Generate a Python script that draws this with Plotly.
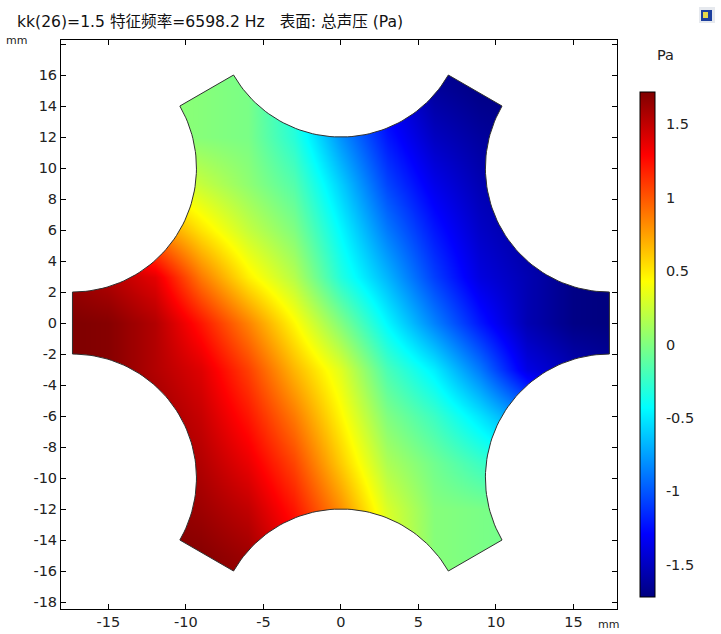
import numpy as np
import plotly.graph_objects as go

# ---------------- data ----------------
x_mm = [-18, -15, -12, -9, -6, -3, 0, 3, 6, 9, 12, 15, 18]
y_mm = [-18, -15, -12, -9, -6, -3, 0, 3, 6, 9, 12, 15, 18]

# total acoustic pressure (Pa), rows ordered by y_mm (bottom -> top)
p_y_m18 = [1.72, 1.72, 1.72, 1.72, 1.70, 1.45, 1.00, 0.40, 0.05, 0.00, -0.05, -0.05, -0.10]
p_y_m15 = [1.72, 1.72, 1.72, 1.70, 1.62, 1.35, 0.90, 0.35, 0.02, -0.02, -0.05, -0.15, -0.30]
p_y_m12 = [1.72, 1.72, 1.70, 1.62, 1.50, 1.22, 0.80, 0.30, 0.02, -0.02, -0.05, -0.50, -0.80]
p_y_m9 = [1.72, 1.72, 1.66, 1.55, 1.36, 1.06, 0.60, 0.15, -0.05, -0.23, -0.40, -0.90, -1.20]
p_y_m6 = [1.72, 1.71, 1.62, 1.48, 1.22, 0.88, 0.45, 0.00, -0.23, -0.52, -0.85, -1.25, -1.45]
p_y_m3 = [1.73, 1.70, 1.55, 1.40, 1.08, 0.68, 0.32, -0.18, -0.48, -0.88, -1.38, -1.55, -1.65]
p_y_0 = [1.73, 1.70, 1.55, 1.22, 0.85, 0.45, 0.00, -0.45, -0.85, -1.22, -1.55, -1.70, -1.73]
p_y_3 = [1.65, 1.55, 1.38, 0.88, 0.48, 0.18, -0.32, -0.68, -1.08, -1.40, -1.55, -1.70, -1.73]
p_y_6 = [1.45, 1.25, 0.85, 0.52, 0.23, 0.00, -0.45, -0.88, -1.22, -1.48, -1.62, -1.71, -1.72]
p_y_9 = [1.20, 0.90, 0.40, 0.23, 0.05, -0.15, -0.60, -1.06, -1.36, -1.55, -1.66, -1.72, -1.72]
p_y_12 = [0.80, 0.50, 0.05, 0.02, -0.02, -0.30, -0.80, -1.22, -1.50, -1.62, -1.70, -1.72, -1.72]
p_y_15 = [0.30, 0.15, 0.05, 0.02, -0.02, -0.35, -0.90, -1.35, -1.62, -1.70, -1.72, -1.72, -1.72]
p_y_18 = [0.10, 0.05, 0.05, 0.00, -0.05, -0.40, -1.00, -1.45, -1.70, -1.72, -1.72, -1.72, -1.72]

pressure = [p_y_m18, p_y_m15, p_y_m12, p_y_m9, p_y_m6, p_y_m3, p_y_0,
            p_y_3, p_y_6, p_y_9, p_y_12, p_y_15, p_y_18]

x_ticks = [-15, -10, -5, 0, 5, 10, 15]
x_ticktext = ["-15", "-10", "-5", "0", "5", "10", "15"]
y_ticks = list(range(-18, 19, 2))
y_ticktext = [("" if v == 18 else str(v)) for v in y_ticks]
cb_ticks = [-1.5, -1, -0.5, 0, 0.5, 1, 1.5]
cb_ticktext = ["-1.5", "-1", "-0.5", "0", "0.5", "1", "1.5"]

title_text = "kk(26)=1.5 特征频率=6598.2 Hz   表面: 总声压 (Pa)"
zmin, zmax = -1.72, 1.72

# ---------------- geometry of the domain ----------------
R_HEX = 20.0   # hexagon vertex radius (mm)
R_CUT = 8.0    # radius of circular cut-outs (mm)


def arc_pts(k, n=60):
    a = np.deg2rad(-30 + 60 * k)
    vx, vy = R_HEX * np.cos(a), R_HEX * np.sin(a)
    t = np.linspace(a - np.deg2rad(120), a - np.deg2rad(240), n)
    return list(vx + R_CUT * np.cos(t)), list(vy + R_CUT * np.sin(t))


left_x = -R_HEX * np.cos(np.deg2rad(30))
bx, by = [left_x], [0.0]
for k in [4, 5, 0, 1, 2, 3]:
    ax_, ay_ = arc_pts(k)
    bx += ax_
    by += ay_
bx.append(left_x)
by.append(0.0)

# keyhole mask: big rectangle (ccw) minus domain (cw)
BIG = 40.0
mx = [-BIG, -BIG, BIG, BIG, -BIG, -BIG] + bx[::-1] + [-BIG]
my = [0.0, -BIG, -BIG, BIG, BIG, 0.0] + by[::-1] + [0.0]

jet = [[0.0, "rgb(0,0,128)"], [0.125, "rgb(0,0,255)"], [0.375, "rgb(0,255,255)"],
       [0.5, "rgb(128,255,128)"], [0.625, "rgb(255,255,0)"], [0.875, "rgb(255,0,0)"],
       [1.0, "rgb(128,0,0)"]]

# ---------------- layout geometry (pixels) ----------------
W, H = 721, 634
L, Rp, T, B = 61, 617, 40, 609
XR = [-18.06, 17.81]
YR = [-18.45, 18.26]


def px(xp):
    return (xp - L) / (Rp - L)


def py(yp):
    return (B - yp) / (B - T)


CB_TOP, CB_BOT, CB_L, CB_W = 92, 597, 640, 15

FONT = "DejaVu Sans, Noto Sans CJK SC, sans-serif"

fig = go.Figure()
fig.add_trace(go.Heatmap(
    x=x_mm, y=y_mm, z=pressure, zsmooth="best", zmin=zmin, zmax=zmax,
    colorscale=jet, hoverinfo="skip",
    colorbar=dict(
        x=px(CB_L), xanchor="left", xpad=0, ypad=0,
        y=py(CB_TOP), yanchor="top", lenmode="pixels", len=CB_BOT - CB_TOP,
        thickness=CB_W, outlinewidth=1, outlinecolor="black",
        tickvals=cb_ticks, ticktext=cb_ticktext, ticks="outside", ticklen=8,
        tickcolor="rgba(0,0,0,0)", tickfont=dict(family=FONT, size=14.5, color="#222"),
    ),
))
fig.add_trace(go.Scatter(x=mx, y=my, mode="lines", fill="toself", fillcolor="white",
                         line=dict(width=0, color="white"), hoverinfo="skip",
                         showlegend=False))
fig.add_trace(go.Scatter(x=bx, y=by, mode="lines", line=dict(color="#303030", width=1),
                         hoverinfo="skip", showlegend=False))

shapes = []
# colorbar tick marks on both sides of the bar
for v in cb_ticks:
    yp = CB_TOP + (zmax - v) / (zmax - zmin) * (CB_BOT - CB_TOP)
    for x0, x1 in [(CB_L, CB_L + 3), (CB_L + CB_W - 3, CB_L + CB_W)]:
        shapes.append(dict(type="line", xref="paper", yref="paper",
                           x0=px(x0), x1=px(x1), y0=py(yp), y1=py(yp),
                           line=dict(color="black", width=1)))
# small toolbar icon top right
shapes.append(dict(type="rect", xref="paper", yref="paper", x0=px(699), x1=px(715),
                   y0=py(23), y1=py(7), fillcolor="#e6e9ee", line=dict(width=0)))
shapes.append(dict(type="rect", xref="paper", yref="paper", x0=px(701), x1=px(712),
                   y0=py(21), y1=py(10), fillcolor="#1d3f9e", line=dict(width=0)))
shapes.append(dict(type="rect", xref="paper", yref="paper", x0=px(703), x1=px(708),
                   y0=py(18), y1=py(12), fillcolor="#e8d84a", line=dict(width=0)))

axis_common = dict(showline=True, linecolor="black", linewidth=1, mirror="ticks",
                   ticks="inside", ticklen=5, tickcolor="black", showgrid=False,
                   zeroline=False, automargin=False,
                   tickfont=dict(family=FONT, size=14.5, color="#222"))

fig.update_layout(
    width=W, height=H, margin=dict(l=L, r=W - Rp, t=T, b=H - B, autoexpand=False),
    paper_bgcolor="white", plot_bgcolor="white", showlegend=False,
    xaxis=dict(range=XR, tickvals=x_ticks, ticktext=x_ticktext, **axis_common),
    yaxis=dict(range=YR, tickvals=y_ticks, ticktext=y_ticktext, **axis_common),
    shapes=shapes,
    annotations=[
        dict(text=title_text, xref="paper", yref="paper", x=px(15), y=py(22),
             xanchor="left", yanchor="middle", showarrow=False,
             font=dict(family=FONT, size=15.6, color="#111")),
        dict(text="mm", xref="paper", yref="paper", x=px(4), y=py(40),
             xanchor="left", yanchor="middle", showarrow=False,
             font=dict(family=FONT, size=11, color="#222")),
        dict(text="mm", xref="paper", yref="paper", x=px(596), y=py(624),
             xanchor="left", yanchor="middle", showarrow=False,
             font=dict(family=FONT, size=11, color="#222")),
        dict(text="Pa", xref="paper", yref="paper", x=px(665), y=py(55),
             xanchor="center", yanchor="middle", showarrow=False,
             font=dict(family=FONT, size=14.5, color="#222")),
    ],
)

fig.write_html("out.html")
